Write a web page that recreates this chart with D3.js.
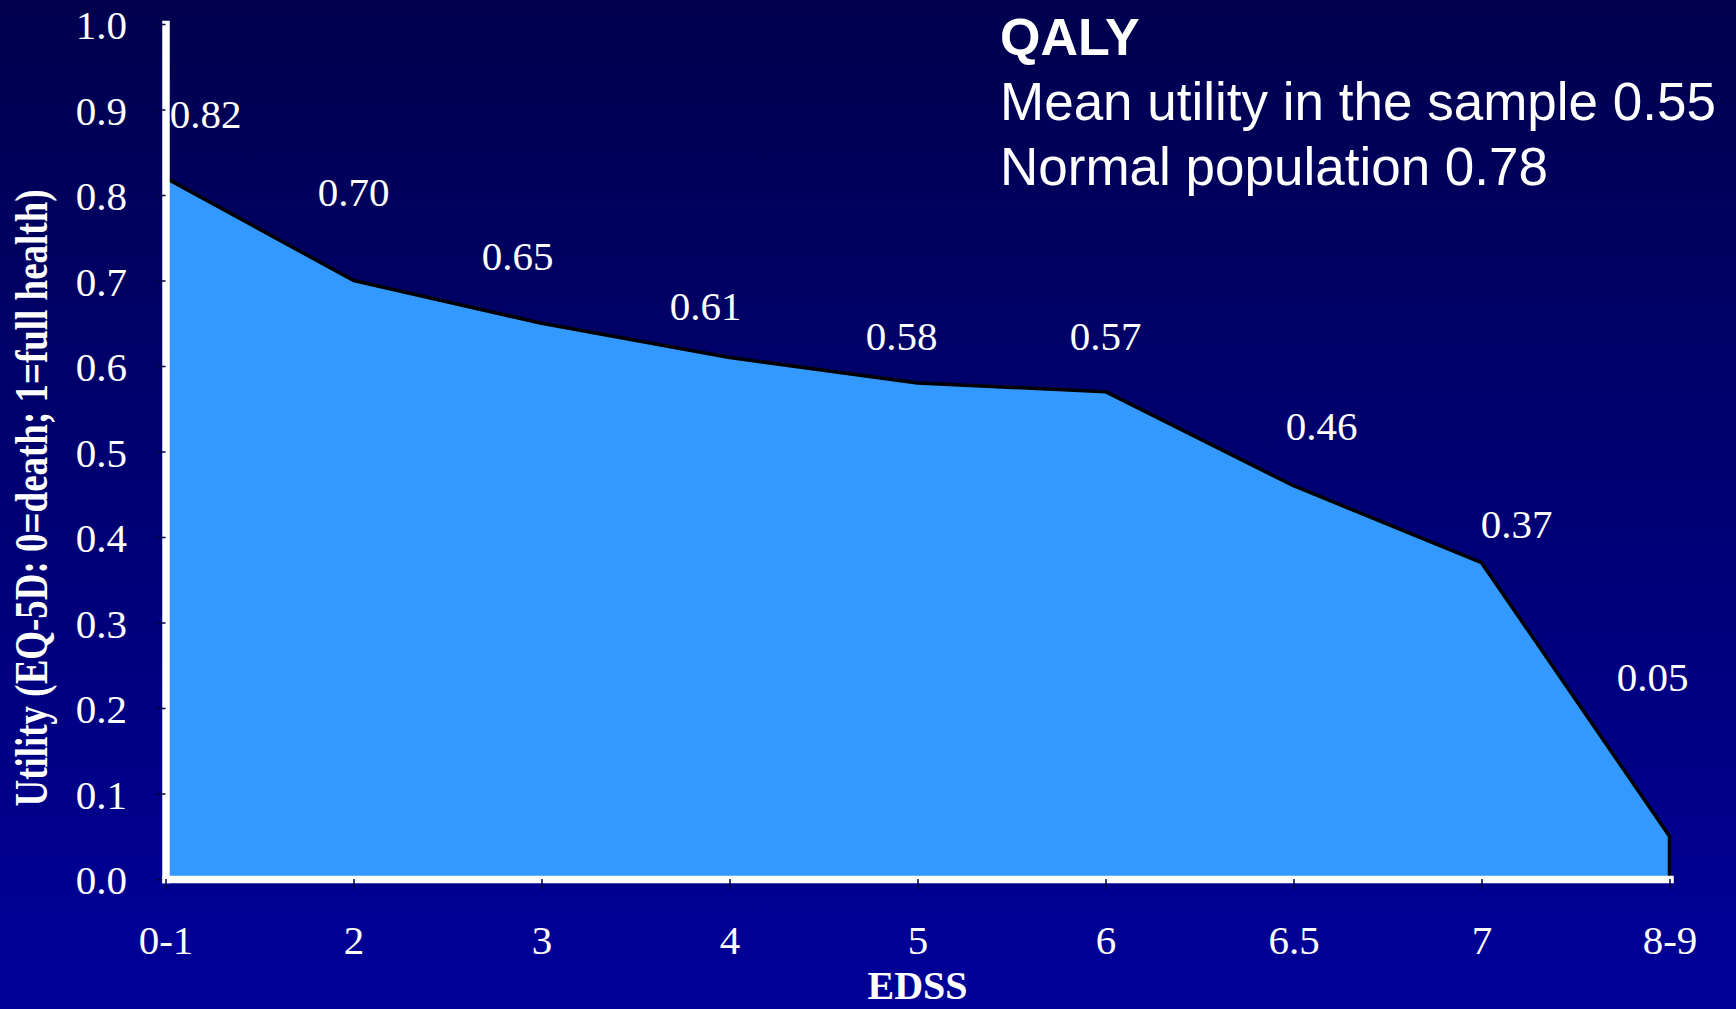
<!DOCTYPE html>
<html>
<head>
<meta charset="utf-8">
<script src="https://cdn.jsdelivr.net/npm/d3@7"></script>
<style>
  html, body { margin: 0; padding: 0; background: #000070; }
  svg { display: block; }
</style>
</head>
<body>
<script>
// EDSS categories and mean EQ-5D utility per category
const categories = ["0-1", "2", "3", "4", "5", "6", "6.5", "7", "8-9"];
const utility = [0.82, 0.70, 0.65, 0.61, 0.58, 0.57, 0.46, 0.37, 0.05];
const yTicks = [0, 0.1, 0.2, 0.3, 0.4, 0.5, 0.6, 0.7, 0.8, 0.9, 1.0];
const headline = "QALY";
const notes = ["Mean utility in the sample 0.55", "Normal population 0.78"];

// hand-placed nudges (px) for the value labels, relative to each point
const labelNudge = [[40, -50], [0, -75], [-24, -53], [-24, -37], [-16, -33], [0, -42], [28, -46], [35, -25], [-17, -145]];

const W = 1736, H = 1009;
const svg = d3.select("body").append("svg").attr("width", W).attr("height", H);

const defs = svg.append("defs");
const grad = defs.append("linearGradient").attr("id", "bg")
  .attr("x1", 0).attr("y1", 0).attr("x2", 0).attr("y2", 1);
grad.append("stop").attr("offset", "0%").attr("stop-color", "#00004e");
grad.append("stop").attr("offset", "100%").attr("stop-color", "#000099");
svg.append("rect").attr("width", W).attr("height", H).attr("fill", "url(#bg)");

const x = d3.scalePoint().domain(categories).range([165.5, 1669.5]);
const y = d3.scaleLinear().domain([0, 1]).range([879, 24]);

const rows = categories.map((c, i) => ({ c, v: utility[i] }));

// filled area under the utility curve
const area = d3.area().x(d => x(d.c)).y0(y(0)).y1(d => y(d.v));
svg.append("path").datum(rows).attr("d", area).attr("fill", "#3399ff");

// outline along the top, closing down at the last category
const outline = rows.concat([{ c: categories[categories.length - 1], v: 0 }]);
const line = d3.line().x(d => x(d.c)).y(d => y(d.v));
svg.append("path").datum(outline).attr("d", line)
  .attr("fill", "none").attr("stroke", "#000").attr("stroke-width", 3.5)
  .attr("stroke-linejoin", "round");

// axes
const yAxis = d3.axisLeft(y).tickValues(yTicks).tickFormat(d3.format(".1f"))
  .tickSize(10).tickSizeOuter(0).tickPadding(28.5);
const gy = svg.append("g").attr("transform", `translate(${x.range()[0]},0)`).call(yAxis);

const xAxis = d3.axisBottom(x).tickSize(10).tickSizeOuter(0).tickPadding(36);
const gx = svg.append("g").attr("transform", `translate(0,${y(0)})`).call(xAxis);

[gy, gx].forEach(g => {
  g.select(".domain").attr("stroke", "#fff").attr("stroke-width", 7.5).attr("stroke-linecap", "square");
  g.selectAll(".tick line").attr("stroke", "#000040").attr("stroke-width", 1.5);
  g.selectAll(".tick text").attr("fill", "#fff")
    .attr("font-family", "'Liberation Serif', 'Times New Roman', serif")
    .attr("font-size", 41);
});
gy.selectAll(".tick text").attr("dy", "0.36em");

// value labels
svg.append("g").selectAll("text").data(rows).join("text")
  .attr("x", (d, i) => x(d.c) + labelNudge[i][0])
  .attr("y", (d, i) => y(d.v) + labelNudge[i][1])
  .attr("text-anchor", "middle")
  .attr("fill", "#fff")
  .attr("font-family", "'Liberation Serif', 'Times New Roman', serif")
  .attr("font-size", 41)
  .text(d => d.v.toFixed(2));

// axis titles
svg.append("text")
  .attr("x", (x.range()[0] + x.range()[1]) / 2).attr("y", 999)
  .attr("text-anchor", "middle").attr("fill", "#fff")
  .attr("font-family", "'Liberation Serif', 'Times New Roman', serif")
  .attr("font-weight", "bold").attr("font-size", 40)
  .text("EDSS");

svg.append("text")
  .attr("transform", "translate(47,498) rotate(-90)")
  .attr("text-anchor", "middle").attr("fill", "#fff")
  .attr("font-family", "'Liberation Serif', 'Times New Roman', serif")
  .attr("font-weight", "bold").attr("font-size", 47)
  .attr("textLength", 617).attr("lengthAdjust", "spacingAndGlyphs")
  .text("Utility (EQ-5D: 0=death; 1=full health)");

// headline block
const hb = svg.append("g").attr("fill", "#fff")
  .attr("font-family", "'Liberation Sans', Arial, sans-serif");
hb.append("text").attr("x", 1000).attr("y", 55)
  .attr("font-weight", "bold").attr("font-size", 52).text(headline);
hb.selectAll("text.note").data(notes).join("text").attr("class", "note")
  .attr("x", 1000).attr("y", (d, i) => 120 + i * 65)
  .attr("font-size", 53).text(d => d);
</script>
</body>
</html>
